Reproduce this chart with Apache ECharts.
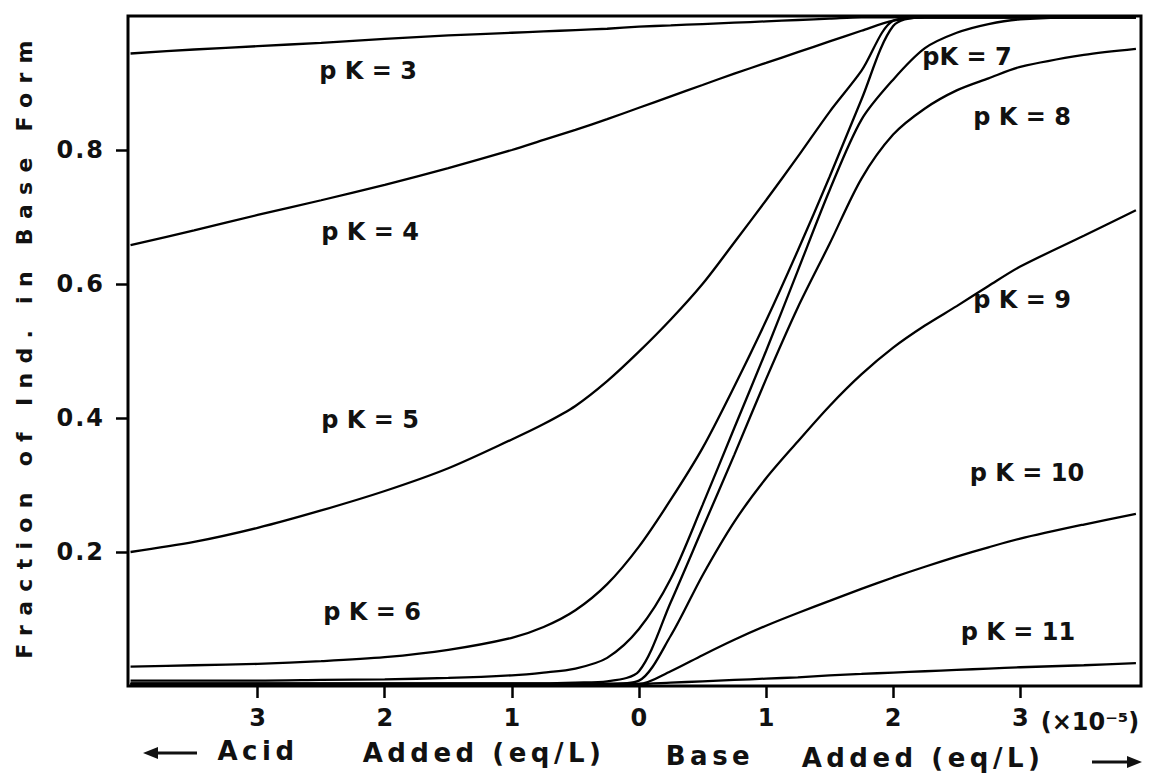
<!DOCTYPE html>
<html><head><meta charset="utf-8">
<script src="https://cdn.jsdelivr.net/npm/echarts@6/dist/echarts.min.js"></script>
<style>html,body{margin:0;padding:0;background:#fff}#c{width:1149px;height:774px}</style>
</head><body><div id="c"></div>
<script>
// Acid added (negative) / base added (positive), units of 1e-5 eq/L
const addedX = [-4.0, -3.5, -3.0, -2.5, -2.0, -1.5, -1.0, -0.75, -0.5, -0.25, 0, 0.25, 0.5, 0.75, 1.0, 1.25, 1.5, 1.75, 2.0, 2.25, 2.5, 2.75, 3.0, 3.5, 3.91];
// Fraction of indicator in base form, one array per pK
const pK3  = [0.944, 0.950, 0.955, 0.960, 0.966, 0.971, 0.975, 0.977, 0.979, 0.981, 0.984, 0.986, 0.988, 0.990, 0.992, 0.994, 0.996, 0.998, 0.998, 0.998, 0.998, 0.998, 0.998, 0.998, 0.998];
const pK4  = [0.658, 0.680, 0.703, 0.725, 0.748, 0.773, 0.800, 0.815, 0.830, 0.846, 0.863, 0.880, 0.897, 0.914, 0.930, 0.946, 0.962, 0.978, 0.993, 0.998, 0.998, 0.998, 0.998, 0.998, 0.998];
const pK5  = [0.200, 0.215, 0.236, 0.262, 0.291, 0.325, 0.368, 0.391, 0.418, 0.455, 0.499, 0.547, 0.600, 0.662, 0.725, 0.790, 0.857, 0.918, 0.993, 0.998, 0.998, 0.998, 0.998, 0.998, 0.998];
const pK6  = [0.029, 0.031, 0.033, 0.037, 0.043, 0.054, 0.072, 0.088, 0.113, 0.152, 0.208, 0.278, 0.355, 0.447, 0.545, 0.650, 0.760, 0.875, 0.985, 0.998, 0.998, 0.998, 0.998, 0.998, 0.998];
const pK7  = [0.008, 0.008, 0.008, 0.009, 0.010, 0.012, 0.016, 0.020, 0.026, 0.042, 0.085, 0.160, 0.270, 0.385, 0.500, 0.620, 0.740, 0.845, 0.905, 0.952, 0.975, 0.988, 0.995, 0.998, 0.998];
const pK8  = [0.004, 0.004, 0.004, 0.004, 0.004, 0.004, 0.004, 0.004, 0.005, 0.007, 0.022, 0.125, 0.235, 0.345, 0.458, 0.565, 0.660, 0.757, 0.823, 0.862, 0.889, 0.907, 0.924, 0.942, 0.951];
const pK9  = [0.003, 0.003, 0.003, 0.003, 0.003, 0.003, 0.003, 0.003, 0.003, 0.003, 0.008, 0.075, 0.165, 0.245, 0.310, 0.365, 0.418, 0.465, 0.505, 0.538, 0.567, 0.597, 0.626, 0.672, 0.710];
const pK10 = [0.003, 0.003, 0.003, 0.003, 0.003, 0.003, 0.003, 0.003, 0.003, 0.003, 0.003, 0.022, 0.046, 0.069, 0.090, 0.109, 0.127, 0.145, 0.162, 0.178, 0.193, 0.207, 0.220, 0.241, 0.257];
const pK11 = [0.003, 0.003, 0.003, 0.003, 0.003, 0.003, 0.003, 0.003, 0.003, 0.003, 0.003, 0.005, 0.007, 0.009, 0.011, 0.013, 0.016, 0.018, 0.020, 0.022, 0.024, 0.026, 0.028, 0.031, 0.034];
const seriesNames = ['pK=3','pK=4','pK=5','pK=6','pK=7','pK=8','pK=9','pK=10','pK=11'];
const seriesValues = [pK3, pK4, pK5, pK6, pK7, pK8, pK9, pK10, pK11];
const xTicks = [-3, -2, -1, 0, 1, 2, 3];
const yTicks = [0.2, 0.4, 0.6, 0.8];
const curveLabels = ['p K = 3','p K = 4','p K = 5','p K = 6','pK = 7','p K = 8','p K = 9','p K = 10','p K = 11'];
const yTitle = 'Fraction of Ind. in Base Form';
const xTitleParts = ['Acid', 'Added (eq/L)', 'Base', 'Added (eq/L)'];
const xUnit = '(×10⁻⁵)';

const FONT = "'DejaVu Sans', sans-serif";
const labelPos = [[368,71],[370,232],[370,420],[372,612],[967,57],[1022,117],[1022,300],[1027,473],[1018,632]];
const xTitlePos = [[258,751],[484,753],[710,756],[923,758]];

function txt(text, x, y, size, extra) {
  return Object.assign({
    type: 'text', x: x, y: y, silent: true,
    style: {text: text, fontFamily: FONT, fontWeight: 'bold', fontSize: size, fill: '#111',
            align: 'center', verticalAlign: 'middle', textAlign: 'center', textVerticalAlign: 'middle'}
  }, extra || {});
}

const graphics = [];
curveLabels.forEach((t, i) => graphics.push(txt(t, labelPos[i][0], labelPos[i][1], 24)));
graphics.push(txt(yTitle, 24, 345, 22, {rotation: Math.PI / 2}));
xTitleParts.forEach((t, i) => graphics.push(txt(t, xTitlePos[i][0], xTitlePos[i][1], 26)));
graphics.push(txt(xUnit, 1090, 722, 24));
// arrows
graphics.push({type:'line', silent:true, shape:{x1:150,y1:753,x2:197,y2:753}, style:{stroke:'#111', lineWidth:3}});
graphics.push({type:'polygon', silent:true, shape:{points:[[143,753],[158,747],[158,759]]}, style:{fill:'#111'}});
graphics.push({type:'line', silent:true, shape:{x1:1092,y1:762,x2:1134,y2:762}, style:{stroke:'#111', lineWidth:3}});
graphics.push({type:'polygon', silent:true, shape:{points:[[1142,762],[1127,756],[1127,768]]}, style:{fill:'#111'}});

const chart = echarts.init(document.getElementById('c'), null, {renderer: 'svg', width: 1149, height: 774});
chart.setOption({
  animation: false,
  backgroundColor: '#fff',
  grid: {left: 128, right: 8, top: 16, bottom: 88, show: true, borderColor: '#000', borderWidth: 3, backgroundColor: 'transparent'},
  xAxis: {
    type: 'value', min: -4.02, max: 3.95,
    splitLine: {show: false},
    axisLine: {show: false, onZero: false},
    axisTick: {show: true, inside: false, length: 12, customValues: xTicks, lineStyle: {color: '#000', width: 2.5}},
    axisLabel: {customValues: xTicks, margin: 20, formatter: v => String(Math.abs(v)),
      fontFamily: FONT, fontWeight: 'bold', fontSize: 24, color: '#111'}
  },
  yAxis: {
    type: 'value', min: 0, max: 1, position: 'left',
    splitLine: {show: false},
    axisLine: {show: false, onZero: false},
    axisTick: {show: true, inside: false, length: 12, customValues: yTicks, lineStyle: {color: '#000', width: 2.5}},
    axisLabel: {customValues: yTicks, margin: 23, formatter: v => v.toFixed(1),
      fontFamily: FONT, fontWeight: 'bold', fontSize: 24, color: '#111'}
  },
  series: seriesValues.map((vals, i) => ({
    name: seriesNames[i], type: 'line', showSymbol: false, smooth: 0.3,
    data: addedX.map((x, j) => [x, vals[j]]),
    lineStyle: {color: '#000', width: 2.3}
  })),
  graphic: graphics
});

const spacing = {'Fraction of Ind. in Base Form': 9.3, 'Acid': 4.5, 'Added (eq/L)': 4.5, 'Base': 4.5,
  '0.2': 2, '0.4': 2, '0.6': 2, '0.8': 2};
function applySpacing() {
  document.querySelectorAll('#c svg text').forEach(t => {
    const s = spacing[t.textContent];
    if (s != null) t.setAttribute('letter-spacing', s + 'px');
  });
}
applySpacing();
chart.on('finished', applySpacing);
setTimeout(applySpacing, 50);
</script>
</body></html>
